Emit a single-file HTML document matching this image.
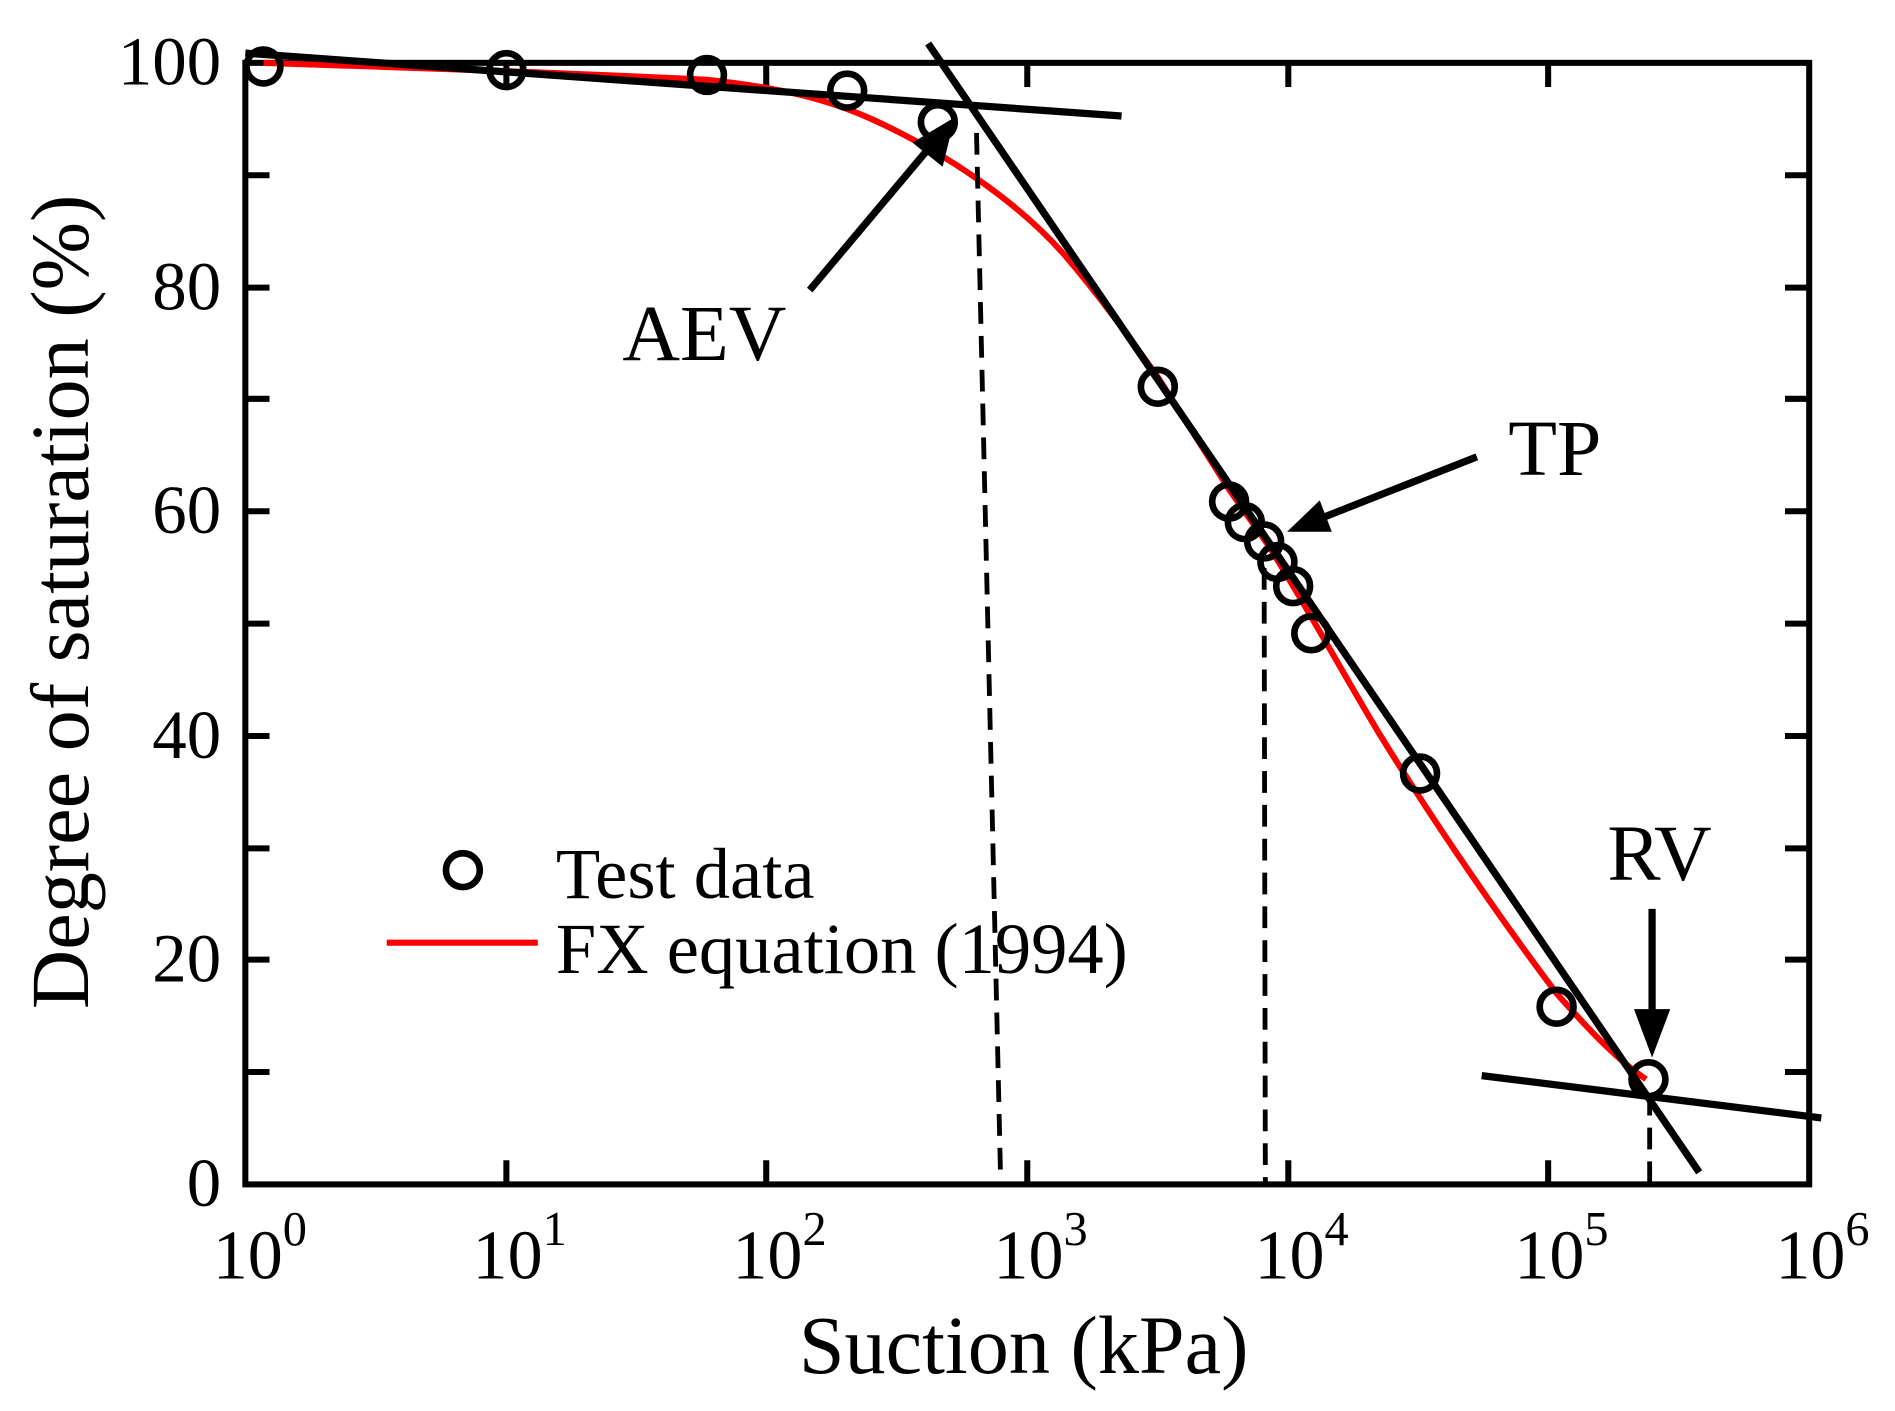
<!DOCTYPE html>
<html><head><style>html,body{margin:0;padding:0;background:#fff}svg{display:block}</style></head>
<body>
<svg width="1895" height="1411" viewBox="0 0 1568 1167.5" preserveAspectRatio="none" xmlns="http://www.w3.org/2000/svg" font-family="Liberation Serif, serif">
<g stroke="#000" stroke-width="5" fill="none">
<rect x="203" y="52" width="1294" height="928"/>
<path d="M419,980v-20M634,980v-20M850,980v-20M1066,980v-20M1281,980v-20M419,52v20M634,52v20M850,52v20M1066,52v20M1281,52v20"/>
<path d="M203,887h20M203,794h20M203,702h20M203,609h20M203,516h20M203,423h20M203,330h20M203,238h20M203,145h20M1497,887h-20M1497,794h-20M1497,702h-20M1497,609h-20M1497,516h-20M1497,423h-20M1497,330h-20M1497,238h-20M1497,145h-20"/>
</g>
<path d="M218,52 C300,55 420,58 585,66 C640,72 680,80 720,98 C780,125 840,165 880,210 C910,245 935,280 958,312 L1017,405 L1050,452 C1080,500 1110,555 1140,605 C1175,662 1230,745 1288,822 C1320,858 1340,878 1362,893" stroke="#f00" stroke-width="5" fill="none"/>
<g stroke="#000" stroke-width="6" fill="none">
<path d="M203,44 L928,96"/>
<path d="M768,36 L1406,970"/>
<path d="M1226,890 L1507,925"/>
</g>
<g stroke="#000" stroke-width="4" fill="none" stroke-dasharray="18,10">
<path d="M808,110 L828,978"/>
<path d="M1046,470 L1047,978"/>
<path d="M1365,905 L1365,978"/>
</g>
<g stroke="#000" stroke-width="5.5" fill="none">
<circle cx="218" cy="55" r="14"/><circle cx="419" cy="58" r="14"/><circle cx="585" cy="62" r="14"/><circle cx="701" cy="75" r="14"/><circle cx="776" cy="101" r="14"/><circle cx="958" cy="320" r="14"/><circle cx="1017" cy="415" r="14"/><circle cx="1030" cy="432" r="14"/><circle cx="1046" cy="448" r="14"/><circle cx="1057" cy="465" r="14"/><circle cx="1070" cy="485" r="14"/><circle cx="1085" cy="524" r="14"/><circle cx="1175" cy="640" r="14"/><circle cx="1288" cy="833" r="14"/><circle cx="1364" cy="893" r="14"/>
<circle cx="383" cy="720" r="14"/>
</g>
<g stroke="#000" stroke-width="6" fill="none">
<path d="M670,240 L775,115"/><path d="M1222,378 L1085,432"/><path d="M1367,752 L1367,850"/>
</g>
<g fill="#000">
<polygon points="790,97 755,118 780,138"/>
<polygon points="1065,440 1092,414 1102,440"/>
<polygon points="1367,875 1352,835 1382,835"/>
</g>
<path d="M320,780 H445" stroke="#f00" stroke-width="5"/>
<g font-size="60" fill="#000">
<text x="460" y="743">Test data</text>
<text x="460" y="805">FX equation (1994)</text>
<text x="515" y="298" font-size="66">AEV</text>
<text x="1248" y="393" font-size="66">TP</text>
<text x="1330" y="728" font-size="66">RV</text>
</g>
<g font-size="57" fill="#000" text-anchor="end">
<text x="183" y="70">100</text><text x="183" y="256">80</text><text x="183" y="441">60</text><text x="183" y="627">40</text><text x="183" y="812">20</text><text x="183" y="998">0</text>
</g>
<g font-size="58" fill="#000">
<text x="176" y="1058">10<tspan font-size="40" dy="-28">0</tspan></text>
<text x="391" y="1058">10<tspan font-size="40" dy="-28">1</tspan></text>
<text x="606" y="1058">10<tspan font-size="40" dy="-28">2</tspan></text>
<text x="822" y="1058">10<tspan font-size="40" dy="-28">3</tspan></text>
<text x="1038" y="1058">10<tspan font-size="40" dy="-28">4</tspan></text>
<text x="1253" y="1058">10<tspan font-size="40" dy="-28">5</tspan></text>
<text x="1469" y="1058">10<tspan font-size="40" dy="-28">6</tspan></text>
</g>
<text x="847" y="1136" font-size="68" text-anchor="middle">Suction (kPa)</text>
<text transform="translate(73,498) rotate(-90)" font-size="68" text-anchor="middle">Degree of saturation (%)</text>
</svg>
</body></html>
